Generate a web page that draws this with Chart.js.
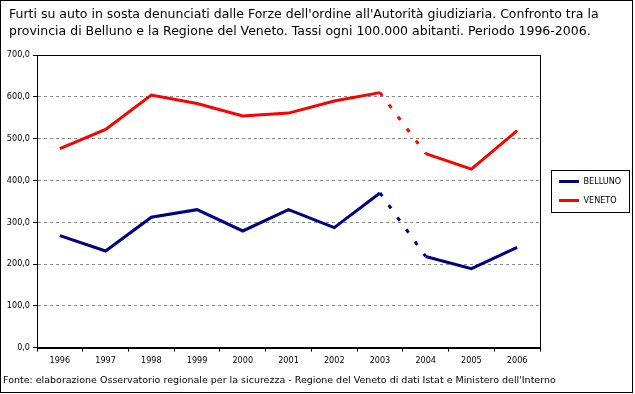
<!DOCTYPE html>
<html>
<head>
<meta charset="utf-8">
<script src="https://cdn.jsdelivr.net/npm/chart.js@4.4.1/dist/chart.umd.min.js"></script>
<style>
  html, body { margin: 0; padding: 0; background: #fff; }
  #wrap { width: 635px; height: 394px; position: relative; }
</style>
</head>
<body>
<div id="wrap"><canvas id="furtiChart" width="635" height="394"></canvas></div>
<script>
// =====> data <=====
const years = ["1996", "1997", "1998", "1999", "2000", "2001", "2002", "2003", "2004", "2005", "2006"];
const belluno = [268, 231, 312, 330, 279, 330, 287, 370, 218, 189, 240];
const veneto = [476, 522, 604, 584, 554, 561, 590, 610, 464, 427, 519];

const titleLines = [
  "Furti su auto in sosta denunciati dalle Forze dell'ordine all'Autorità giudiziaria. Confronto tra la",
  "provincia di Belluno e la Regione del Veneto. Tassi ogni 100.000 abitanti. Periodo 1996-2006."
];
const sourceText = "Fonte: elaborazione Osservatorio regionale per la sicurezza - Regione del Veneto di dati Istat e Ministero dell'Interno";

const FONT = "'DejaVu Sans Condensed', 'DejaVu Sans', sans-serif";
const WIDE = "'DejaVu Sans', sans-serif";

// the 2003 -> 2004 step is drawn dotted
const gapDash = (ctx) => (ctx.p0DataIndex === 7 ? [4, 11] : undefined);

// =====> frame, legend box and fixed placements <=====
const framePlugin = {
  id: "frame",
  afterLayout(chart) {
    // title and source run across the whole width, not only over the plot
    chart.boxes.forEach((box) => {
      if (!box.options || box.options.text === undefined) return;
      if (box.options.text === sourceText) { box.left = 3; box.right = 630; }
      else { box.left = 9; box.right = 630; }
    });
    const lg = chart.legend;
    lg.left = 549; lg.right = 629; lg.top = 167; lg.bottom = 300;
  },
  afterDraw(chart) {
    const ctx = chart.ctx;
    const a = chart.chartArea;
    const l = Math.round(a.left) + 0.5, r = Math.round(a.right) + 0.5;
    const t = Math.round(a.top) + 0.5, b = Math.round(a.bottom) + 0.5;
    ctx.save();
    ctx.strokeStyle = "#000";
    ctx.lineWidth = 1;
    ctx.setLineDash([]);
    // plot border
    ctx.strokeRect(l, t, r - l, b - t);
    // legend box
    ctx.strokeRect(551.5, 170.5, 78, 42);
    // outer frame
    ctx.strokeRect(0.5, 0.5, 632, 392);
    ctx.restore();
  }
};

new Chart("furtiChart", {
  type: "line",
  data: {
    labels: years,
    datasets: [
      {
        label: "BELLUNO",
        data: belluno,
        borderColor: "#000080",
        backgroundColor: "#000080",
        borderWidth: 3,
        pointRadius: 0,
        tension: 0,
        segment: { borderDash: gapDash }
      },
      {
        label: "VENETO",
        data: veneto,
        borderColor: "#ff0000",
        backgroundColor: "#ff0000",
        borderWidth: 3,
        pointRadius: 0,
        tension: 0,
        segment: { borderDash: gapDash }
      }
    ]
  },
  options: {
    responsive: false,
    animation: false,
    devicePixelRatio: 1,
    layout: { padding: { left: 3, right: 95, top: 0, bottom: 0 } },
    plugins: {
      title: {
        display: true,
        text: titleLines,
        align: "start",
        color: "#000",
        font: { family: WIDE, size: 12.5, weight: "normal", lineHeight: 1.36 },
        padding: { top: 6, bottom: 15 }
      },
      subtitle: {
        display: true,
        position: "bottom",
        text: sourceText,
        align: "start",
        color: "#000",
        font: { family: WIDE, size: 9.5, weight: "normal", lineHeight: 1.2 },
        padding: { top: 7, bottom: 8 }
      },
      legend: {
        display: true,
        position: "chartArea",
        align: "start",
        labels: {
          usePointStyle: true,
          pointStyle: "line",
          pointStyleWidth: 20,
          boxWidth: 20,
          padding: 10,
          color: "#000",
          font: { family: FONT, size: 9 }
        }
      },
      tooltip: { enabled: false }
    },
    scales: {
      x: {
        offset: true,
        afterFit: (s) => { s.height = 20; },
        border: { display: true, color: "#000", width: 1 },
        grid: {
          offset: true,
          drawOnChartArea: false,
          drawTicks: true,
          tickLength: 4,
          tickColor: "#000"
        },
        ticks: {
          color: "#000",
          padding: 4,
          maxRotation: 0,
          autoSkip: false,
          font: { family: FONT, size: 9 }
        }
      },
      y: {
        min: 0,
        max: 700,
        afterFit: (s) => { s.width = 34; },
        border: { display: true, color: "#000", width: 1, dash: [3, 3] },
        grid: {
          color: "#888",
          tickLength: 4,
          tickColor: "#000",
          tickBorderDash: []
        },
        ticks: {
          stepSize: 100,
          color: "#000",
          padding: 3,
          font: { family: FONT, size: 9 },
          callback: (v) => v.toFixed(1).replace(".", ",")
        }
      }
    }
  },
  plugins: [framePlugin]
});
</script>
</body>
</html>
